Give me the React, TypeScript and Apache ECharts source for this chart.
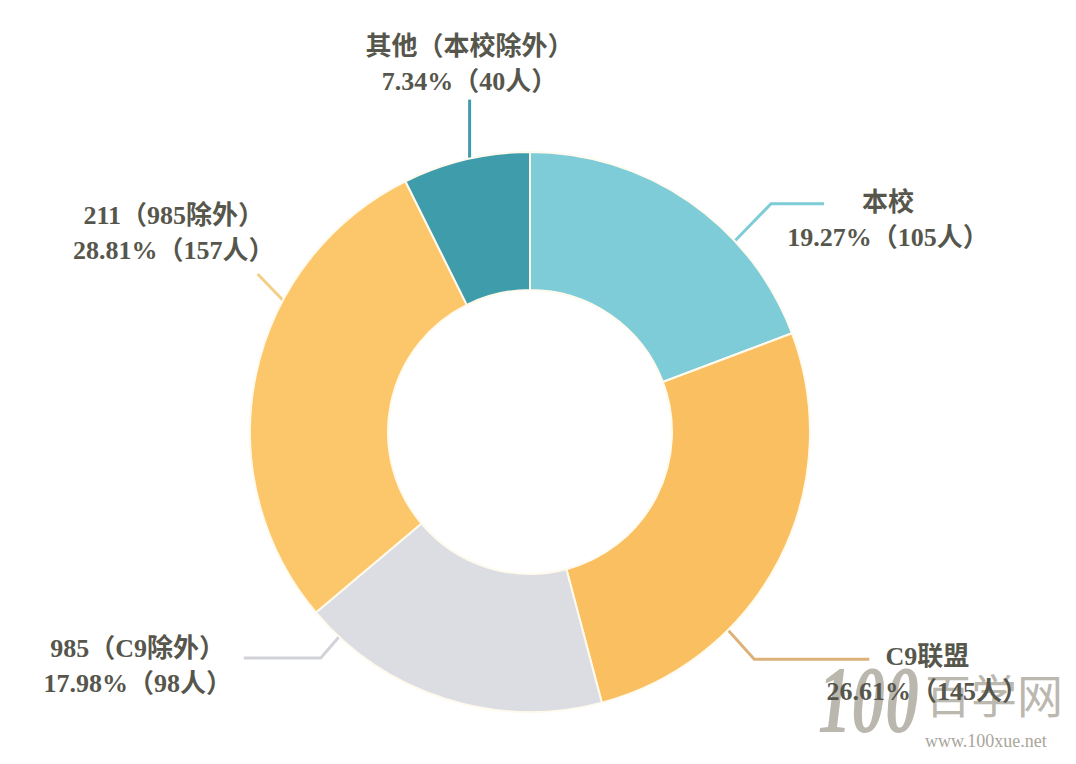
import React, { useEffect, useRef } from 'react';
import * as echarts from 'echarts';

const categories = ['本校', 'C9联盟', '985（C9除外）', '211（985除外）', '其他（本校除外）'];
const counts = [105, 145, 98, 157, 40];
const sliceColors = ['#7ECCD8', '#F9BF61', '#DCDDE2', '#FCC76B', '#3F9CAB'];
const lineColors = ['#7ECCD8', '#DDB27A', '#D2D3DA', '#F2CF86', '#3F9CAB'];

const CX = 530;
const CY = 432;
const R_IN = 142;
const R_OUT = 280;

// leader line per label: anchor angle on the rim (deg, clockwise from top),
// first segment, horizontal tail, then offset of the label block from the line end
const placement = [
  { angle: 47, seg: [37, -38], tail: 53, dx: 64, dy: -19 },
  { angle: 135, seg: [27, 30], tail: 115, dx: 58, dy: -20 },
  { angle: 223, seg: [-19, 22], tail: -77, dx: -106, dy: -27 },
  { angle: 298, seg: [-26, -27], tail: 0, dx: -84, dy: -76 },
  { angle: 347.5, seg: [0, -60], tail: 0, dx: 0, dy: -71 },
];

const textColor = '#56564C';
const fontFamily = '"Liberation Serif", "Noto Sans CJK SC", serif';

const App: React.FC = () => {
  const chartRef = useRef<HTMLDivElement>(null);

  useEffect(() => {
    if (!chartRef.current) return;
    const chart = echarts.init(chartRef.current, undefined, { renderer: 'svg' });
    const total = counts.reduce((a, b) => a + b, 0);

    const textStyle = {
      fontSize: 26,
      lineHeight: 35,
      color: textColor,
      fontFamily,
      fontWeight: 'bold',
      align: 'center',
    };

    const options = {
      animation: false,
      backgroundColor: '#ffffff',
      series: [
        {
          type: 'pie',
          center: [CX, CY],
          radius: [R_IN, R_OUT],
          startAngle: 90,
          clockwise: true,
          avoidLabelOverlap: false,
          emphasis: { disabled: true },
          itemStyle: {
            borderColor: '#FFFAEE',
            borderWidth: 2,
          },
          label: {
            show: true,
            position: 'outside',
            formatter: (p: any) =>
              `{n|${p.name}}\n{v|${((p.value / total) * 100).toFixed(2)}%（${p.value}人）}`,
            rich: { n: textStyle, v: textStyle },
          },
          labelLine: {
            show: true,
            lineStyle: { width: 3 },
          },
          labelLayout: (params: any) => {
            const p = placement[params.dataIndex];
            const a = (p.angle * Math.PI) / 180;
            const x0 = CX + (R_OUT - 1) * Math.sin(a);
            const y0 = CY - (R_OUT - 1) * Math.cos(a);
            const x1 = x0 + p.seg[0];
            const y1 = y0 + p.seg[1];
            const x2 = x1 + p.tail;
            return {
              x: x2 + p.dx,
              y: y1 + p.dy,
              align: 'center',
              verticalAlign: 'top',
              labelLinePoints: [
                [x0, y0],
                [x1, y1],
                [x2, y1],
              ],
            };
          },
          data: categories.map((name, i) => ({
            name,
            value: counts[i],
            itemStyle: { color: sliceColors[i] },
            labelLine: { lineStyle: { color: lineColors[i], width: 3 } },
          })),
        },
      ],
      // site watermark in the lower right corner
      graphic: [
        {
          type: 'text',
          x: 818,
          y: 650,
          scaleX: 0.7,
          z: 0,
          style: {
            text: '100',
            fontSize: 96,
            lineHeight: 100,
            fontStyle: 'italic',
            fontWeight: 'bold',
            fontFamily: '"Liberation Serif", serif',
            fill: '#A9A59B',
            opacity: 0.8,
          },
        },
        {
          type: 'text',
          x: 925,
          y: 668,
          z: 0,
          style: {
            text: '百学网',
            fontSize: 46,
            lineHeight: 50,
            fontFamily: '"Noto Sans CJK SC", sans-serif',
            fill: '#A9A59B',
            opacity: 0.8,
          },
        },
        {
          type: 'text',
          x: 925,
          y: 731,
          z: 0,
          style: {
            text: 'www.100xue.net',
            fontSize: 18,
            lineHeight: 20,
            fontFamily: '"Liberation Serif", serif',
            fill: '#A9A59B',
          },
        },
      ],
    };

    chart.setOption(options);
    return () => {
      chart.dispose();
    };
  }, []);

  return (
    <div
      ref={chartRef}
      style={{ position: 'fixed', left: 0, top: 0, width: '1076px', height: '764px' }}
    />
  );
};

export default App;
